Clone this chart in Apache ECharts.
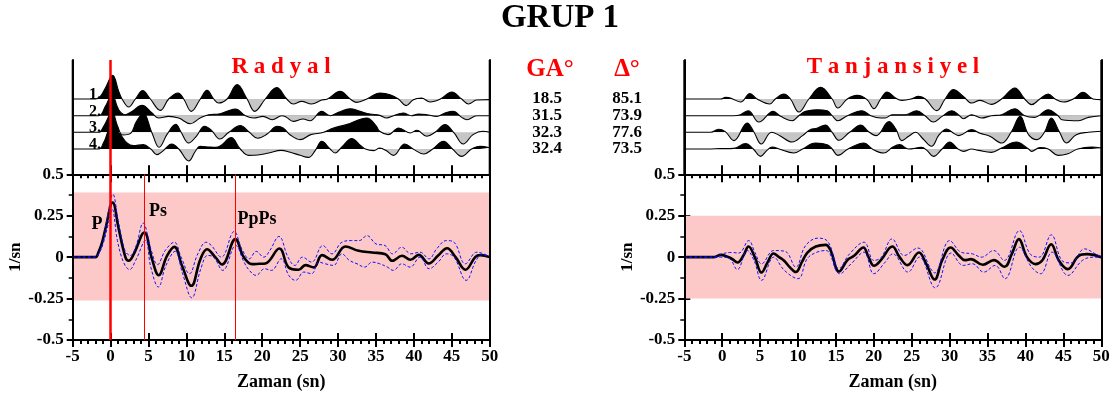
<!DOCTYPE html>
<html><head><meta charset="utf-8">
<script src="https://cdn.jsdelivr.net/npm/echarts@6/dist/echarts.min.js"></script>
<style>html,body{margin:0;padding:0;background:#fff}#c{width:1119px;height:400px}</style>
</head><body><div id="c"></div>
<script>
// ---------------- DATA ----------------
const timeTicks = [-5, 0, 5, 10, 15, 20, 25, 30, 35, 40, 45, 50];
const ampTicks = [-0.5, -0.25, 0, 0.25, 0.5];
const traceLabels = ['1.', '2.', '3.', '4.'];
const gaValues = ['18.5', '31.5', '32.3', '32.4'];
const deltaValues = ['85.1', '73.9', '77.6', '73.5'];
const phaseNames = ['P', 'Ps', 'PpPs'];
const phaseTimes = [0, 4.5, 16.5];
const radBand = [0.39, -0.262];
const tanBand = [0.25, -0.25];

// Radyal stacked receiver function (mean) and +/- bounds
const radMean = [[-5,0],[-2,0],[-1.6,0.03],[-1.13,0.088],[-0.69,0.17],[0.27,0.33],[1.07,0.17],[1.95,0.0],[2.39,-0.022],[3.05,0.018],[4.45,0.149],[5.46,-0.012],[6.34,-0.109],[7.44,0.008],[8.41,0.062],[9.42,-0.052],[10.65,-0.173],[11.84,-0.012],[12.72,0.048],[13.8,0.0],[14.7,-0.044],[16.46,0.109],[17.56,0.0],[18.66,-0.042],[19.6,-0.04],[20.42,-0.038],[22.26,0.052],[23.49,-0.062],[24.81,-0.076],[25.69,-0.048],[26.79,-0.062],[27.89,0.012],[29.21,-0.016],[30.97,0.064],[32.73,0.038],[34.49,0.028],[36.25,0.018],[37.13,-0.022],[38.44,0.008],[39.54,-0.016],[40.64,0.014],[41.96,-0.038],[43.2,0.01],[44.38,0.054],[45.5,0.0],[46.8,-0.076],[48.12,0.002],[48.78,0.012],[50,0]];
const radUp = [[-5,0],[-2,0],[-1.5,0.03],[-1,0.09],[-0.5,0.22],[0.3,0.38],[1.0,0.22],[1.9,0.04],[2.6,0.01],[3.3,0.06],[4.3,0.205],[5.3,0.05],[6.2,-0.045],[7.2,0.04],[8.4,0.09],[9.3,0.0],[10.4,-0.1],[11.5,0.02],[12.6,0.09],[13.3,0.07],[14.6,0.0],[16.3,0.155],[17.3,0.05],[18.3,-0.01],[19.2,0.035],[20.2,0.0],[21.0,0.04],[22.2,0.125],[23.4,0.0],[24.3,-0.05],[25.3,0.0],[26.5,-0.03],[28.0,0.07],[29.2,0.02],[30.5,0.09],[31.8,0.1],[32.8,0.1],[33.8,0.13],[35.0,0.08],[36.2,0.07],[37.2,0.02],[38.4,0.06],[39.6,0.02],[40.8,0.03],[42.0,-0.01],[43.0,0.05],[44.3,0.1],[45.3,0.09],[46.8,-0.04],[48.3,0.03],[49.2,0.02],[50,0]];
const radLo = [[-5,0],[-2,0],[-1.5,0.025],[-1,0.08],[-0.3,0.2],[0.2,0.29],[0.9,0.1],[1.7,-0.03],[2.5,-0.075],[3.3,-0.02],[4.6,0.1],[5.3,-0.06],[6.3,-0.18],[7.3,-0.05],[8.5,0.035],[9.5,-0.1],[10.7,-0.245],[11.9,-0.07],[12.8,0.01],[13.6,0.0],[14.8,-0.08],[16.5,0.07],[17.6,-0.03],[18.3,-0.08],[19.2,-0.11],[20.3,-0.07],[21.2,-0.08],[22.5,-0.01],[23.5,-0.11],[24.4,-0.14],[25.5,-0.09],[26.5,-0.1],[27.5,-0.03],[28.3,-0.04],[29.4,-0.05],[30.5,0.02],[31.5,-0.02],[32.5,-0.04],[33.5,-0.06],[34.5,-0.03],[35.5,-0.04],[36.5,-0.06],[37.3,-0.08],[38.4,-0.04],[39.5,-0.06],[40.8,0.0],[42.0,-0.07],[43.2,-0.03],[44.3,0.02],[45.3,0.0],[46.9,-0.14],[48.2,-0.02],[49.0,0.015],[50,0]];

// Tanjansiyel stacked receiver function (mean) and +/- bounds
const tanMean = [[-5,0],[-1.06,0],[-0.18,0.014],[0.7,0.002],[1.3,-0.01],[2.02,-0.032],[2.8,0.01],[3.47,0.064],[4.3,0.0],[5.18,-0.093],[6.0,-0.03],[6.76,0.022],[7.5,0.0],[8.17,-0.022],[8.9,-0.06],[9.7,-0.09],[10.5,-0.03],[11.24,0.028],[12.34,0.064],[13.65,0.074],[14.3,0.04],[15.41,-0.087],[16.51,-0.018],[17.39,0.008],[18.62,0.058],[19.3,0.0],[20.02,-0.052],[20.9,-0.02],[22.44,0.064],[23.4,0.0],[24.42,-0.048],[25.95,0.028],[26.9,-0.04],[28.02,-0.135],[29.0,-0.02],[30.12,0.058],[31.2,0.01],[32.0,-0.018],[32.8,-0.012],[34.38,-0.046],[35.83,-0.018],[37.24,-0.058],[38.2,0.02],[39.13,0.109],[40.2,0.0],[41.32,-0.042],[42.2,-0.02],[43.39,0.078],[44.4,-0.02],[45.58,-0.072],[47.03,0.008],[48.13,0.018],[50,0]];
const tanUp = [[-5,0],[-1,0],[0,0.02],[1.2,0.028],[2.2,0.025],[3.5,0.1],[4.3,0.03],[5.2,-0.04],[6.8,0.04],[8.3,0.035],[9.7,-0.06],[11.0,0.07],[12.7,0.115],[14.0,0.09],[15.4,-0.07],[16.8,0.02],[18.7,0.09],[20.0,-0.02],[21.0,0.0],[22.4,0.11],[24.0,0.01],[25.8,0.055],[27.5,-0.07],[28.0,-0.095],[30.0,0.1],[31.5,0.03],[33.0,0.02],[34.2,0.0],[35.8,0.04],[37.2,-0.02],[39.2,0.16],[40.6,0.02],[41.8,0.0],[43.4,0.135],[44.8,-0.02],[46.0,-0.035],[47.8,0.05],[49.2,0.02],[50,0]];
const tanLo = [[-5,0],[-1,0],[0,0.0],[1.0,-0.01],[2.0,-0.075],[3.3,0.04],[4.2,-0.02],[5.2,-0.14],[6.8,0.0],[8.2,-0.08],[10.0,-0.13],[11.2,-0.01],[12.5,0.03],[13.7,0.04],[15.5,-0.1],[17.0,-0.04],[18.7,0.03],[20.0,-0.1],[21.5,-0.03],[22.5,0.02],[24.5,-0.09],[26.0,0.0],[28.1,-0.185],[30.2,0.025],[31.8,-0.05],[33.0,-0.04],[34.5,-0.09],[36.0,-0.05],[37.3,-0.13],[39.2,0.06],[40.8,-0.06],[42.0,-0.1],[43.5,0.03],[45.6,-0.11],[47.5,-0.02],[49.0,0.0],[50,0]];

// individual Radyal traces
const radTr1 = [[-5,0],[-2,0],[-1.35,0.04],[-0.69,0.165],[0.27,0.355],[1.07,0.115],[1.51,0],[2.39,-0.12],[3.27,0],[4.23,0.125],[5.24,0],[6.56,-0.17],[7.66,0],[8.89,0.09],[9.64,0],[10.65,-0.185],[11.84,0],[12.72,0.13],[13.6,0],[14.26,-0.06],[15.36,0],[16.68,0.215],[18.0,0],[19.0,-0.185],[20.4,0],[21.9,0.17],[23.23,0],[24.1,-0.075],[25.2,-0.035],[26.5,-0.075],[27.85,-0.015],[28.6,0],[30.27,0.115],[31.6,0],[32.46,-0.05],[33.8,0],[35.54,0.09],[36.86,0.065],[37.96,0],[38.97,-0.1],[39.94,-0.01],[41.0,0.015],[42.14,-0.045],[43.5,0],[45.0,0.105],[46.3,0],[47.2,-0.075],[48.3,-0.015],[50,-0.01]];
const radTr2 = [[-5,0],[-1.57,0],[-0.69,0.14],[0.19,0.315],[1.07,0.09],[1.95,0.015],[2.83,0.065],[4.15,0.155],[5.46,0.04],[6.34,-0.035],[7.66,-0.01],[8.98,-0.035],[10.52,-0.12],[11.8,-0.035],[12.94,0.015],[14.26,0.025],[15.36,0.065],[16.46,0.1],[17.78,0],[18.88,-0.035],[20.1,-0.01],[21.3,-0.06],[22.6,0],[23.2,-0.025],[24.1,-0.085],[25.4,-0.05],[26.3,-0.075],[27.85,0.065],[28.95,0],[30.05,0.05],[31.6,0.105],[32.9,0.065],[34.2,0.025],[35.5,0.005],[36.4,-0.035],[37.3,0],[38.6,0.04],[39.7,0],[40.6,0.025],[41.7,0.015],[43.0,-0.01],[44.1,0.04],[45.2,0.065],[46.3,-0.025],[47.0,-0.06],[48.3,0],[50,0]];
const radTr3 = [[-5,0],[-1.57,0],[-0.91,0.09],[0.2,0.3],[0.9,0.1],[1.6,-0.04],[2.6,-0.02],[3.4,0.16],[4.3,0.28],[5.46,-0.01],[6.4,-0.225],[7.5,-0.02],[8.6,0.12],[9.3,0.0],[10.3,-0.16],[11.3,-0.06],[12.4,0.09],[13.3,0.03],[14.4,-0.1],[15.6,0.0],[17.1,0.1],[18.3,0.0],[19.4,-0.09],[20.6,-0.03],[22.0,0.09],[22.8,0.06],[23.7,-0.04],[25.0,-0.11],[26.4,-0.035],[28.1,0.0],[29.4,0.065],[31.1,0.115],[33.8,0.215],[35.0,0.1],[35.5,0.015],[36.6,-0.035],[38.0,0.065],[39.5,-0.01],[40.4,0.03],[41.7,-0.06],[42.8,0.0],[44.1,0.115],[45.3,-0.01],[46.5,-0.175],[47.8,-0.035],[49.1,0.015],[50,0]];
const radTr4 = [[-5,0],[-1.57,0],[-0.9,0.1],[0.15,0.34],[1.3,0.215],[2.17,0.09],[3.0,0.05],[4.3,0.065],[5.3,0.0],[6.1,-0.085],[7.0,-0.02],[8.05,0.075],[9.0,0.0],[10.3,-0.18],[11.2,-0.03],[11.8,0.04],[13.0,0.03],[13.8,0.025],[14.5,0.05],[15.9,0.17],[17.1,0.0],[18.2,-0.095],[19.4,-0.09],[20.85,-0.06],[22.5,-0.02],[23.7,-0.05],[25.0,-0.095],[26.1,-0.125],[27.0,-0.02],[27.85,0.115],[28.95,0.0],[29.6,-0.06],[30.5,0.03],[31.8,0.155],[33.0,0.05],[33.6,0.0],[34.7,-0.025],[35.5,0.015],[36.3,-0.02],[37.3,-0.095],[38.8,0.075],[39.9,0.0],[41.3,-0.075],[42.5,0.0],[43.9,0.115],[45.1,0.0],[46.3,-0.11],[47.6,0.0],[48.7,0.04],[50,0.02]];

// individual Tanjansiyel traces
const tanTr1 = [[-5,0],[-0.2,0],[0.45,0.025],[1.3,0.005],[2.43,-0.045],[3.66,0.08],[4.6,0],[6.29,-0.075],[7.0,0.0],[8.14,0.075],[9.0,0.0],[10.11,-0.195],[11.43,0],[12.97,0.175],[14.5,0],[15.25,-0.135],[16.5,0],[17.8,0.055],[19.1,-0.01],[20.0,-0.145],[20.9,0],[21.75,0.105],[22.8,0.02],[23.7,-0.02],[24.9,0.0],[25.9,0.04],[26.8,0.0],[28.3,-0.175],[29.4,0],[30.5,0.14],[31.8,0.04],[32.9,-0.06],[34.0,-0.02],[35.5,-0.08],[36.85,0],[38.6,0.165],[39.9,0],[40.8,-0.085],[41.9,0],[43.0,0.075],[43.9,0],[45.0,-0.045],[46.3,0],[47.6,0.1],[48.9,0],[50,-0.01]];
const tanTr2 = [[-5,0],[1.5,0],[2.4,0.015],[3.43,0.075],[4.84,-0.095],[6.73,0.065],[7.7,-0.01],[9.23,-0.075],[10.1,0],[11.0,0.065],[12.5,0.09],[13.85,0.075],[14.5,0],[15.25,-0.075],[16.5,0],[18.46,0.075],[19.6,0],[20.9,-0.035],[21.5,-0.035],[22.4,0.015],[24.1,0.015],[25.65,0.075],[26.75,0],[27.85,-0.095],[29.0,-0.01],[30.3,0.075],[31.3,0],[31.8,-0.045],[32.9,0.015],[34.2,-0.035],[35.5,0],[36.85,0.015],[38.6,0.105],[39.9,0],[41.2,-0.025],[43.0,0.09],[44.3,0],[44.8,-0.06],[47.0,-0.075],[48.3,-0.025],[50,0]];
const tanTr3 = [[-5,0],[-1.5,0],[-0.5,0.045],[0.4,0.01],[1.55,-0.125],[3.3,0.14],[4.2,0],[5.15,-0.175],[6.5,0.0],[7.6,-0.05],[9.2,-0.145],[10.6,-0.05],[11.6,0.04],[12.5,0.06],[13.6,0.11],[14.5,0],[15.4,-0.12],[16.8,0],[18.3,0.11],[19.2,0.02],[20.3,-0.05],[22.0,0.16],[22.9,0.05],[23.7,-0.125],[24.6,-0.06],[25.5,0.0],[26.5,-0.1],[27.6,-0.21],[28.6,-0.04],[29.6,0.05],[30.6,-0.02],[31.2,-0.05],[32.9,0.04],[34.0,-0.015],[35.3,-0.06],[36.85,-0.16],[38.1,0],[39.3,0.24],[40.4,-0.035],[41.5,-0.11],[42.5,0],[43.4,0.215],[44.5,0],[45.4,-0.16],[46.7,-0.035],[48.3,0],[50,0.015]];
const tanTr4 = [[-5,0],[-2.0,0],[-0.2,0.005],[1.5,0.01],[3.08,0.08],[4.1,0],[5.06,-0.11],[5.9,-0.02],[6.6,0.03],[7.5,0],[9.45,-0.06],[10.6,0],[12.3,0.09],[13.85,0.065],[14.5,0],[15.25,-0.095],[16.6,0],[18.7,0.09],[19.8,0],[21.3,-0.06],[22.5,0.03],[23.4,0.065],[24.6,0],[26.3,0.025],[27.0,-0.02],[27.85,-0.11],[29.0,0],[30.0,0.105],[31.1,0],[31.8,-0.035],[32.9,0.0],[33.8,-0.02],[35.5,-0.05],[36.85,0.015],[38.8,0.105],[40.4,0],[40.8,-0.035],[41.9,0.02],[43.0,0],[44.3,-0.095],[45.6,-0.07],[46.9,0],[48.7,0.03],[50,0.015]];

const radTraces = [radTr1, radTr2, radTr3, radTr4];
const tanTraces = [tanTr1, tanTr2, tanTr3, tanTr4];

// ---------------- LAYOUT ----------------
const FONT = '"Liberation Serif", "Times New Roman", serif';
const PANEL_LEFT = [72.7, 684.3];
const PANEL_W = 417;
const LOW_TOP = 174.3, LOW_H = 165.7;
const UP_TOP = 60;
const BASE_Y = [99, 115.7, 132.3, 149];
const TR_H = 66.7;
const RED = '#ff0000';

const grids = [], xAxes = [], yAxes = [], series = [];
const areaSeriesIdx = [];
const txt = (size) => ({color:'#000', fontFamily:FONT, fontWeight:'bold', fontSize:size});
const LS = {color:'#000', width:2};
const lineOn = {show:true, onZero:false, lineStyle:LS};
const lineOff = {show:false, onZero:false};

function framePanel(p, redZero) {
  const gi = grids.length;
  grids.push({left: PANEL_LEFT[p], top: UP_TOP, width: PANEL_W, height: LOW_TOP + LOW_H - UP_TOP});
  const xi = xAxes.length, yi = yAxes.length;
  xAxes.push({gridIndex: gi, type:'value', min:-5, max:50, axisLine:lineOff, axisTick:{show:false}, axisLabel:{show:false}, splitLine:{show:false}});
  yAxes.push({gridIndex: gi, type:'value', min:0, max:1, position:'left', z:20, axisLine:lineOn, axisTick:{show:false}, axisLabel:{show:false}, splitLine:{show:false}});
  yAxes.push({gridIndex: gi, type:'value', min:0, max:1, position:'right', z:20, axisLine:lineOn, axisTick:{show:false}, axisLabel:{show:false}, splitLine:{show:false}});
  const s = {type:'line', xAxisIndex: xi, yAxisIndex: yi, data: [[-5, 0], [50, 0]], symbol:'none', showSymbol:false,
    lineStyle:{width:0, opacity:0}, silent:true, z:20};
  if (redZero) s.markLine = {silent:true, symbol:'none', label:{show:false}, z:20,
    data:[{xAxis: phaseTimes[0], lineStyle:{color:RED, width:2.5, type:'solid'}}]};
  series.push(s);
}

function lowerPanel(p, mean, up, lo, band, phases) {
  const gi = grids.length;
  grids.push({left: PANEL_LEFT[p], top: LOW_TOP, width: PANEL_W, height: LOW_H});
  const xi = xAxes.length, yi = yAxes.length;
  const xb = {gridIndex: gi, type:'value', min: timeTicks[0], max: timeTicks[timeTicks.length-1], interval: 5, splitLine:{show:false}};
  xAxes.push(Object.assign({}, xb, {position:'bottom', axisLine:lineOn,
    axisTick:{show:true, inside:false, length:7, lineStyle:LS},
    minorTick:{show:true, splitNumber:5, length:4, lineStyle:{color:'#000', width:2}},
    axisLabel:Object.assign({margin:8}, txt(17)),
    name:'Zaman (sn)', nameLocation:'middle', nameGap:33, nameTextStyle:txt(18)}));
  xAxes.push(Object.assign({}, xb, {position:'bottom', axisLine:lineOff, axisTick:{show:true, inside:true, length:7, lineStyle:LS}, axisLabel:{show:false}}));
  xAxes.push(Object.assign({}, xb, {position:'top', axisLine:lineOn,
    axisTick:{show:true, inside:true, length:8, lineStyle:LS},
    minorTick:{show:true, splitNumber:5, length:4, lineStyle:{color:'#000', width:2}}, axisLabel:{show:false}}));
  xAxes.push(Object.assign({}, xb, {position:'top', axisLine:lineOff, axisTick:{show:true, inside:false, length:9, lineStyle:LS}, axisLabel:{show:false}}));
  const yb = {gridIndex: gi, type:'value', min: ampTicks[0], max: ampTicks[ampTicks.length-1], interval:0.25, splitLine:{show:false}};
  yAxes.push(Object.assign({}, yb, {position:'left', axisLine:lineOn,
    axisTick:{show:true, inside:false, length:6, lineStyle:LS},
    minorTick:{show:true, splitNumber:2, length:4, lineStyle:{color:'#000', width:1.5}},
    axisLabel:Object.assign({margin:9}, txt(17)),
    name:'1/sn', nameLocation:'middle', nameGap:48, nameRotate:90, nameTextStyle:txt(17)}));
  yAxes.push(Object.assign({}, yb, {position:'left', axisLine:lineOff, axisTick:{show:true, inside:true, length:6, lineStyle:LS}, axisLabel:{show:false}}));
  yAxes.push(Object.assign({}, yb, {position:'right', axisLine:lineOn, axisTick:{show:false}, axisLabel:{show:false}}));

  const meanSeries = {type:'line', xAxisIndex: xi, yAxisIndex: yi, data: mean, smooth:0.4, showSymbol:false, symbol:'none',
    lineStyle:{color:'#000', width:2.6}, z:3, silent:true,
    markArea:{silent:true, itemStyle:{color:'#fcc8c8'}, data:[[{yAxis: band[0]}, {yAxis: band[1]}]]}};
  if (phases) {
    meanSeries.markLine = {silent:true, symbol:'none', label:{show:false},
      data: phaseTimes.slice(1).map(t => ({xAxis: t, lineStyle:{color:RED, width:1, type:'solid'}}))};
    meanSeries.markPoint = {silent:true, symbol:'circle', symbolSize:0,
      data: [
        {name: phaseNames[0], coord:[-1.79, 0.2]},
        {name: phaseNames[1], coord:[6.25, 0.279]},
        {name: phaseNames[2], coord:[19.3, 0.23]}
      ],
      label:Object.assign({show:true, position:'inside', formatter:'{b}'}, txt(18))};
  }
  series.push(meanSeries);
  [up, lo].forEach(d => series.push({type:'line', xAxisIndex: xi, yAxisIndex: yi, data: d, smooth:0.4, showSymbol:false, symbol:'none',
    lineStyle:{color:'#1010ff', width:1, type:[3,2]}, z:4, silent:true}));
}

function tracePanel(p, traces) {
  traces.forEach((tr, k) => {
    const g = grids.length;
    grids.push({left: PANEL_LEFT[p], top: BASE_Y[k] - TR_H/2, width: PANEL_W, height: TR_H});
    const txi = xAxes.length, tyi = yAxes.length;
    xAxes.push({gridIndex: g, type:'value', min:-5, max:50, show:false, axisLine:lineOff});
    yAxes.push({gridIndex: g, type:'value', min:-0.5, max:0.5, show:false, axisLine:lineOff});
    areaSeriesIdx.push(series.length);
    series.push({type:'line', xAxisIndex: txi, yAxisIndex: tyi, data: tr, smooth:0.4, showSymbol:false, symbol:'none', silent:true,
      lineStyle:{width:0}, areaStyle:{opacity:1}, z:1});
    series.push({type:'line', xAxisIndex: txi, yAxisIndex: tyi, data: tr, smooth:0.4, showSymbol:false, symbol:'none', silent:true,
      lineStyle:{color:'#000', width:1.1}, z:1});
  });
}

framePanel(0, true);
framePanel(1, false);
lowerPanel(0, radMean, radUp, radLo, radBand, true);
lowerPanel(1, tanMean, tanUp, tanLo, tanBand, false);
tracePanel(0, radTraces);
tracePanel(1, tanTraces);

function tx(text, x, y, size, color, align) {
  return {type:'text', x:x, y:y, silent:true, z:10, style:{text:text, x:0, y:0, fill:color || '#000',
    font:'bold ' + size + 'px ' + FONT, textAlign: align || 'center', textVerticalAlign:'middle', align: align || 'center', verticalAlign:'middle'}};
}
// frame edges of the upper trace boxes, drawn on their own top layer
function frameEdge(x) {
  return {type:'rect', silent:true, zlevel:5, z:100, shape:{x: x - 1, y: UP_TOP, width: 2, height: LOW_TOP - UP_TOP}, style:{fill:'#000'}};
}
const graphics = [
  tx('GRUP 1', 560, 18, 33),
  tx('R a d y a l', 281, 67, 23, RED),
  tx('T a n j a n s i y e l', 893, 67, 23, RED),
  tx('GA°', 550, 70, 25, RED),
  tx('Δ°', 627, 70, 25, RED)
];
PANEL_LEFT.forEach(l => { graphics.push(frameEdge(l)); graphics.push(frameEdge(l + PANEL_W)); });
BASE_Y.forEach((b, k) => {
  graphics.push(tx(traceLabels[k], 95, b - 4, 16));
  graphics.push(tx(gaValues[k], 547, b, 17));
  graphics.push(tx(deltaValues[k], 627, b, 17));
});

const chart = echarts.init(document.getElementById('c'), null, {renderer:'canvas'});
chart.setOption({
  animation:false,
  backgroundColor:'#fff',
  grid: grids,
  xAxis: xAxes,
  yAxis: yAxes,
  visualMap: [{type:'piecewise', show:false, dimension:1, seriesIndex: areaSeriesIdx,
    pieces:[{gt:0, lte:10, color:'#000000'}, {gt:-10, lte:0, color:'#c6c6c6'}]}],
  series: series,
  graphic: graphics
});
</script></body></html>
